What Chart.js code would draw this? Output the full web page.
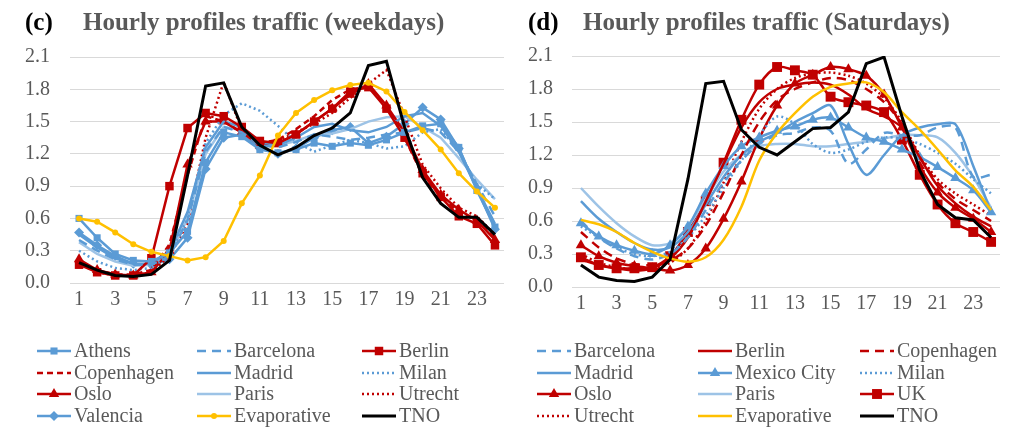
<!DOCTYPE html>
<html>
<head>
<meta charset="utf-8">
<script src="https://cdn.jsdelivr.net/npm/chart.js@4.4.0/dist/chart.umd.min.js"></script>
<style>
  html, body { margin: 0; padding: 0; background: #fff; }
  #wrap { display: flex; width: 1013px; height: 432px; }
  canvas { display: block; }
</style>
</head>
<body>
<div id="wrap">
  <canvas id="weekdays" width="510" height="432"></canvas>
  <canvas id="saturdays" width="503" height="432"></canvas>
</div>
<script>
// hour labels and y ticks
const hours = ['1','2','3','4','5','6','7','8','9','10','11','12','13','14','15','16','17','18','19','20','21','22','23','24'];
const yTicks = [0, 0.3, 0.6, 0.9, 1.2, 1.5, 1.8, 2.1];

// (c) weekdays
const wdAthens      = [0.60,0.42,0.27,0.21,0.20,0.28,0.48,1.12,1.40,1.36,1.24,1.21,1.24,1.30,1.27,1.30,1.28,1.33,1.40,1.46,1.48,1.26,0.86,0.52];
const wdBarcelona   = [0.40,0.30,0.22,0.17,0.17,0.25,0.58,1.22,1.45,1.40,1.28,1.26,1.31,1.38,1.36,1.33,1.35,1.38,1.40,1.44,1.40,1.22,0.92,0.62];
const wdBerlin      = [0.17,0.10,0.07,0.07,0.23,0.90,1.44,1.58,1.55,1.45,1.32,1.30,1.38,1.50,1.62,1.78,1.82,1.62,1.35,1.02,0.80,0.62,0.55,0.35];
const wdCopenhagen  = [0.20,0.12,0.08,0.08,0.12,0.36,1.00,1.55,1.50,1.40,1.30,1.33,1.43,1.55,1.70,1.80,1.82,1.65,1.35,1.00,0.80,0.66,0.58,0.42];
const wdMadrid      = [0.45,0.33,0.23,0.18,0.18,0.29,0.66,1.26,1.50,1.45,1.31,1.28,1.35,1.45,1.48,1.42,1.40,1.45,1.55,1.58,1.46,1.22,0.88,0.55];
const wdMilan       = [0.30,0.20,0.14,0.12,0.14,0.26,0.60,1.30,1.56,1.67,1.60,1.46,1.31,1.22,1.28,1.33,1.30,1.25,1.27,1.40,1.43,1.22,0.92,0.78];
const wdOslo        = [0.22,0.12,0.08,0.07,0.10,0.30,1.10,1.50,1.50,1.40,1.28,1.30,1.38,1.50,1.62,1.75,1.85,1.65,1.40,1.05,0.82,0.68,0.58,0.40];
const wdParis       = [0.38,0.27,0.20,0.16,0.17,0.26,0.60,1.20,1.45,1.42,1.30,1.28,1.32,1.38,1.39,1.43,1.50,1.54,1.55,1.45,1.35,1.16,0.96,0.78];
const wdUtrecht     = [0.18,0.10,0.07,0.07,0.10,0.25,0.55,1.35,1.87,1.42,1.30,1.32,1.40,1.48,1.58,1.72,1.85,1.98,1.55,1.10,0.88,0.70,0.62,0.45];
const wdValencia    = [0.47,0.35,0.25,0.18,0.17,0.22,0.42,1.06,1.35,1.38,1.25,1.20,1.25,1.35,1.42,1.45,1.30,1.36,1.48,1.63,1.52,1.25,0.88,0.50];
const wdEvaporative = [0.60,0.57,0.47,0.36,0.29,0.25,0.21,0.24,0.39,0.74,1.00,1.37,1.58,1.70,1.79,1.84,1.86,1.78,1.59,1.42,1.24,1.02,0.85,0.70];
const wdTNO         = [0.19,0.12,0.07,0.06,0.08,0.21,1.00,1.83,1.86,1.45,1.28,1.19,1.26,1.37,1.44,1.58,2.02,2.06,1.45,0.98,0.74,0.61,0.61,0.45];

// (d) saturdays
const satBarcelona   = [0.60,0.45,0.35,0.28,0.25,0.30,0.45,0.70,0.95,1.15,1.30,1.38,1.40,1.45,1.42,1.12,1.25,1.40,1.38,1.38,1.45,1.45,1.00,1.02];
const satBerlin      = [0.25,0.20,0.17,0.15,0.17,0.26,0.45,0.78,1.12,1.45,1.68,1.80,1.84,1.86,1.84,1.75,1.62,1.55,1.45,1.18,0.92,0.76,0.64,0.55];
const satCopenhagen  = [0.50,0.36,0.26,0.21,0.20,0.24,0.35,0.56,0.86,1.20,1.50,1.70,1.80,1.86,1.90,1.88,1.80,1.68,1.48,1.18,0.95,0.80,0.70,0.60];
const satMadrid      = [0.78,0.62,0.50,0.40,0.34,0.36,0.50,0.75,1.00,1.20,1.32,1.40,1.50,1.58,1.65,1.30,1.02,1.20,1.38,1.45,1.48,1.48,1.10,0.68];
const satMexicoCity  = [0.58,0.46,0.38,0.33,0.30,0.38,0.55,0.85,1.10,1.28,1.36,1.42,1.46,1.52,1.54,1.45,1.36,1.32,1.25,1.18,1.09,0.99,0.88,0.68];
const satMilan       = [0.55,0.45,0.36,0.30,0.28,0.32,0.45,0.65,0.90,1.15,1.38,1.55,1.48,1.30,1.22,1.25,1.32,1.36,1.35,1.30,1.22,1.12,0.98,0.85];
const satOslo        = [0.38,0.28,0.22,0.19,0.17,0.15,0.20,0.35,0.62,0.96,1.35,1.65,1.85,1.93,2.00,1.98,1.92,1.75,1.45,1.10,0.86,0.72,0.62,0.50];
const satParis       = [0.90,0.73,0.58,0.46,0.38,0.40,0.55,0.80,1.05,1.20,1.28,1.30,1.30,1.28,1.28,1.30,1.32,1.35,1.38,1.38,1.36,1.22,1.00,0.72];
const satUK          = [0.27,0.20,0.17,0.17,0.18,0.28,0.50,0.78,1.13,1.52,1.84,2.00,1.97,1.93,1.73,1.68,1.65,1.59,1.34,1.02,0.75,0.58,0.50,0.41];
const satUtrecht     = [0.30,0.22,0.18,0.16,0.17,0.22,0.35,0.60,0.95,1.32,1.62,1.80,1.90,1.94,1.95,1.92,1.85,1.72,1.50,1.20,0.98,0.85,0.75,0.65];
const satEvaporative = [0.61,0.57,0.50,0.40,0.32,0.26,0.23,0.27,0.43,0.73,1.15,1.40,1.58,1.73,1.82,1.85,1.86,1.77,1.59,1.43,1.25,1.06,0.91,0.70];
const satTNO         = [0.20,0.09,0.06,0.05,0.09,0.25,0.98,1.85,1.87,1.43,1.27,1.20,1.32,1.44,1.45,1.59,2.03,2.09,1.55,1.06,0.75,0.63,0.61,0.45];

const BLUE = '#5B9BD5', LIGHT = '#9DC3E6', RED = '#C00000', GOLD = '#FFC000', TEXT = '#595959';
const FONT = '"Liberation Serif", "Times New Roman", serif';

function line(label, data, color, extra) {
  return Object.assign({
    label, data,
    borderColor: color, backgroundColor: color,
    borderWidth: 2.5, pointRadius: 0, pointHoverRadius: 0,
    pointBorderWidth: 0, fill: false, tension: 0, order: 5
  }, extra);
}
const square = r => ({ pointStyle: 'rect', pointRadius: r });
const tri = r => ({ pointStyle: 'triangle', pointRadius: r });
const diamond = r => ({ pointStyle: 'rectRot', pointRadius: r });
const dot = r => ({ pointStyle: 'circle', pointRadius: r });

// small marker for the legend samples
function marker(ctx, style, r, x, y) {
  ctx.beginPath();
  if (style === 'rect') {
    const s = r * Math.SQRT1_2;
    ctx.rect(x - s, y - s, 2 * s, 2 * s);
  } else if (style === 'triangle') {
    ctx.moveTo(x, y - r);
    ctx.lineTo(x + r * 0.866, y + r / 2);
    ctx.lineTo(x - r * 0.866, y + r / 2);
    ctx.closePath();
  } else if (style === 'rectRot') {
    ctx.moveTo(x, y - r); ctx.lineTo(x + r, y); ctx.lineTo(x, y + r); ctx.lineTo(x - r, y);
    ctx.closePath();
  } else {
    ctx.arc(x, y, r, 0, Math.PI * 2);
  }
  ctx.fill();
}

const panelPlugin = {
  id: 'panel',
  afterDraw(chart, args, o) {
    const ctx = chart.ctx;
    ctx.save();
    ctx.textBaseline = 'alphabetic';
    ctx.font = 'bold 25px ' + FONT;
    ctx.fillStyle = '#000';
    ctx.fillText(o.tag, o.tagX, 30);
    ctx.fillStyle = TEXT;
    ctx.fillText(o.title, o.titleX, 30);

    ctx.font = '20px ' + FONT;
    ctx.textBaseline = 'middle';
    chart.data.datasets.forEach((ds, i) => {
      const x = o.cols[i % 3], y = o.rows[Math.floor(i / 3)];
      ctx.strokeStyle = ds.borderColor;
      ctx.lineWidth = ds.borderWidth;
      ctx.setLineDash(ds.borderDash || []);
      ctx.beginPath();
      ctx.moveTo(x, y);
      ctx.lineTo(x + 34, y);
      ctx.stroke();
      ctx.setLineDash([]);
      if (ds.pointRadius) {
        ctx.fillStyle = ds.borderColor;
        marker(ctx, ds.pointStyle, ds.pointRadius, x + 17, y);
      }
      ctx.fillStyle = TEXT;
      ctx.fillText(ds.label, x + 37, y + 1);
    });
    ctx.restore();
  }
};

function makeChart(id, datasets, panel, area) {
  return new Chart(document.getElementById(id), {
    type: 'line',
    data: { labels: hours, datasets },
    options: {
      responsive: false,
      animation: false,
      devicePixelRatio: 1,
      layout: { padding: { left: 0, right: area.padRight, top: area.top, bottom: 0 } },
      plugins: { legend: { display: false }, tooltip: { enabled: false }, panel },
      scales: {
        x: {
          offset: true,
          grid: { display: false, drawTicks: false },
          border: { display: false },
          ticks: {
            autoSkip: false, maxRotation: 0, padding: 5, color: TEXT,
            font: { family: FONT, size: 20 },
            callback: (v, i) => (i % 2 === 0 ? hours[i] : '')
          },
          afterFit: s => { s.height = area.xHeight; }
        },
        y: {
          min: 0, max: 2.1,
          grid: { color: '#D9D9D9', lineWidth: 1, drawTicks: false },
          border: { display: false },
          afterBuildTicks: s => { s.ticks = yTicks.map(v => ({ value: v })); },
          ticks: {
            padding: area.yPad, color: TEXT,
            font: { family: FONT, size: 20 },
            callback: v => Number(v).toFixed(1)
          },
          afterFit: s => { s.width = area.yWidth; }
        }
      }
    },
    plugins: [panelPlugin]
  });
}

makeChart('weekdays', [
  line('Athens', wdAthens, BLUE, square(5)),
  line('Barcelona', wdBarcelona, BLUE, { borderDash: [9, 6] }),
  line('Berlin', wdBerlin, RED, square(6)),
  line('Copenhagen', wdCopenhagen, RED, { borderDash: [6, 4] }),
  line('Madrid', wdMadrid, BLUE),
  line('Milan', wdMilan, BLUE, { borderDash: [2, 3] }),
  line('Oslo', wdOslo, RED, tri(6)),
  line('Paris', wdParis, LIGHT),
  line('Utrecht', wdUtrecht, RED, { borderDash: [2, 3] }),
  line('Valencia', wdValencia, BLUE, diamond(5)),
  line('Evaporative', wdEvaporative, GOLD, Object.assign(dot(3), { order: 1 })),
  line('TNO', wdTNO, '#000', { borderWidth: 3, order: 0 })
], {
  tag: '(c)', tagX: 25, title: 'Hourly profiles traffic (weekdays)', titleX: 83,
  cols: [37, 197, 362], rows: [351, 373, 394, 416]
}, { top: 57, padRight: 2, xHeight: 149, yWidth: 70, yPad: 20 });

const smooth = { tension: 0.3 };
makeChart('saturdays', [
  line('Barcelona', satBarcelona, BLUE, Object.assign({ borderDash: [9, 6] }, smooth)),
  line('Berlin', satBerlin, RED, smooth),
  line('Copenhagen', satCopenhagen, RED, Object.assign({ borderDash: [9, 6] }, smooth)),
  line('Madrid', satMadrid, BLUE, smooth),
  line('Mexico City', satMexicoCity, BLUE, Object.assign(tri(6), smooth)),
  line('Milan', satMilan, BLUE, Object.assign({ borderDash: [2, 3] }, smooth)),
  line('Oslo', satOslo, RED, Object.assign(tri(6), smooth)),
  line('Paris', satParis, LIGHT, smooth),
  line('UK', satUK, RED, Object.assign(square(7), smooth)),
  line('Utrecht', satUtrecht, RED, Object.assign({ borderDash: [2, 3] }, smooth)),
  line('Evaporative', satEvaporative, GOLD, Object.assign({ order: 1 }, smooth)),
  line('TNO', satTNO, '#000', { borderWidth: 3, order: 0 })
], {
  tag: '(d)', tagX: 18, title: 'Hourly profiles traffic (Saturdays)', titleX: 73,
  cols: [27, 188, 350], rows: [351, 373, 394, 416]
}, { top: 56, padRight: 13, xHeight: 145, yWidth: 62, yPad: 19 });
</script>
</body>
</html>
